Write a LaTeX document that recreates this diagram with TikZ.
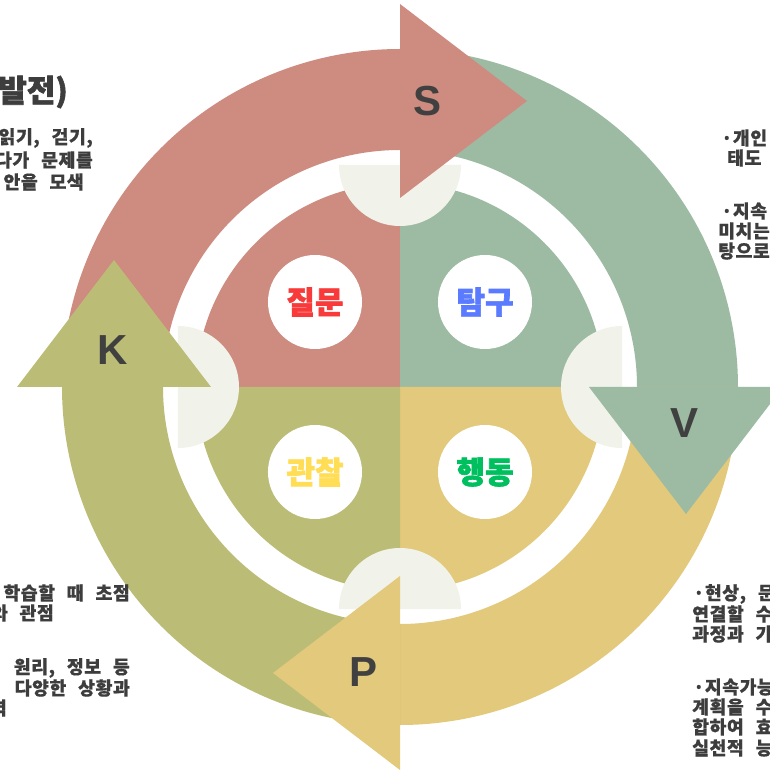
\documentclass[tikz,border=0pt]{standalone}
\usepackage{fontspec}
\setmainfont{Noto Sans CJK KR}
\newfontfamily\krtxt{Noto Sans CJK KR}[BoldFeatures={FakeBold=0.6}, LetterSpace=3, WordSpace=2.5]
\newfontfamily\krlbl{Noto Sans CJK KR}[BoldFeatures={FakeBold=2}]
\newfontfamily\latinb{Liberation Sans}
\definecolor{cred}{HTML}{CE8B7F}
\definecolor{cgreen}{HTML}{9DBBA3}
\definecolor{cyellow}{HTML}{E2C97C}
\definecolor{colive}{HTML}{BBBD77}
\definecolor{clight}{HTML}{F1F2EA}
\definecolor{txtgray}{HTML}{3D3D3D}
\definecolor{letgray}{HTML}{404040}
\definecolor{qred}{HTML}{F83A3A}
\definecolor{qblue}{HTML}{5A7BFF}
\definecolor{qyellow}{HTML}{FFDD55}
\definecolor{qgreen}{HTML}{00BF5F}
\begin{document}
\begin{tikzpicture}[x=1pt,y=1pt,
  txt/.style={font=\krtxt\fontsize{18.3}{20}\selectfont\bfseries, text=txtgray, inner sep=0pt},
  ttl/.style={font=\krlbl\fontsize{31}{33}\selectfont\bfseries, text=txtgray, inner sep=0pt},
  qcirc/.style={circle, fill=white, minimum size=94pt, inner sep=0pt, font=\krlbl\fontsize{31}{33}\selectfont\bfseries},
  letter/.style={font=\latinb\fontsize{42}{44}\selectfont\bfseries, text=letgray, inner sep=0pt},
  ]
\useasboundingbox (-400,-383) rectangle (369,387);
\fill[white] (-400,-383) rectangle (369,387);
% quadrant disk
\fill[cred] (0,0) -- (180:204) arc[start angle=180,end angle=90,radius=204] -- cycle;
\fill[cgreen] (0,0) -- (90:204) arc[start angle=90,end angle=0,radius=204] -- cycle;
\fill[cyellow] (0,0) -- (0:204) arc[start angle=0,end angle=-90,radius=204] -- cycle;
\fill[colive] (0,0) -- (-90:204) arc[start angle=-90,end angle=-180,radius=204] -- cycle;
% light half discs
\fill[clight] (-61,222) arc[start angle=180,end angle=360,radius=61] -- cycle;
\fill[clight] (222,61) arc[start angle=90,end angle=270,radius=61] -- cycle;
\fill[clight] (61,-222) arc[start angle=0,end angle=180,radius=61] -- cycle;
\fill[clight] (-222,-61) arc[start angle=-90,end angle=90,radius=61] -- cycle;
% shafts
\fill[cred] (180:338) arc[start angle=180,end angle=89,radius=338] -- (89:237) arc[start angle=89,end angle=180,radius=237] -- cycle;
\fill[cgreen] (90:338) arc[start angle=90,end angle=-1,radius=338] -- (-1:237) arc[start angle=-1,end angle=90,radius=237] -- cycle;
\fill[cyellow] (0:338) arc[start angle=0,end angle=-91,radius=338] -- (-91:237) arc[start angle=-91,end angle=0,radius=237] -- cycle;
\fill[colive] (-90:338) arc[start angle=-90,end angle=-181,radius=338] -- (-181:237) arc[start angle=-181,end angle=-90,radius=237] -- cycle;
% heads
\fill[cred] (0,383) -- (127,286) -- (0,189) -- cycle;
\fill[cgreen] (189,0) -- (383,0) -- (286,-127) -- cycle;
\fill[cyellow] (0,-189) -- (0,-383) -- (-127,-286) -- cycle;
\fill[colive] (-383,0) -- (-189,0) -- (-286,127) -- cycle;
% circles
\node[qcirc, text=qred] (q1) at (-85,85) {질문};
\node[qcirc, text=qblue] (q2) at (85,85) {탐구};
\node[qcirc, text=qyellow] (q3) at (-85,-85) {관찰};
\node[qcirc, text=qgreen] (q4) at (85,-85) {행동};
% letters
\node[letter] (ls) at (28,286) {S};
\node[letter] (lv) at (285,-36) {V};
\node[letter] (lp) at (-36,-285) {P};
\node[letter] (lk) at (-287,37) {K};
% texts top-left
\node[ttl, anchor=east] (t0) at (-332,295) {발전)};
\node[txt, anchor=east] (tl1) at (-307,249) {읽기, 걷기,};
\node[txt, anchor=east] (tl2) at (-307,227) {다가 문제를};
\node[txt, anchor=east] (tl3) at (-316,205) {안을 모색};
% top-right
\node[txt, anchor=west] (tr1) at (321,249) {·개인};
\node[txt, anchor=west] (tr2) at (327,229) {태도};
\node[txt, anchor=west] (tr3) at (321,176) {·지속};
\node[txt, anchor=west] (tr4) at (318,156) {미치는};
\node[txt, anchor=west] (tr5) at (318,136) {탕으로};
% bottom-left
\node[txt, anchor=east] (bl1) at (-270,-206) {학습할 때 초점};
\node[txt, anchor=east] (bl2) at (-346,-226) {와 관점};
\node[txt, anchor=east] (bl3) at (-270,-281) {원리, 정보 등};
\node[txt, anchor=east] (bl4) at (-270,-301) {다양한 상황과};
\node[txt, anchor=east] (bl5) at (-393,-321) {능력};
% bottom-right
\node[txt, anchor=west] (br1) at (293,-207) {·현상, 문};
\node[txt, anchor=west] (br2) at (292,-227) {연결할 수};
\node[txt, anchor=west] (br3) at (292,-247) {과정과 가};
\node[txt, anchor=west] (br4) at (293,-300) {·지속가능};
\node[txt, anchor=west] (br5) at (292,-320) {계획을 수};
\node[txt, anchor=west] (br6) at (292,-340) {합하여 효};
\node[txt, anchor=west] (br7) at (292,-361) {실천적 능};
\end{tikzpicture}
\end{document}
